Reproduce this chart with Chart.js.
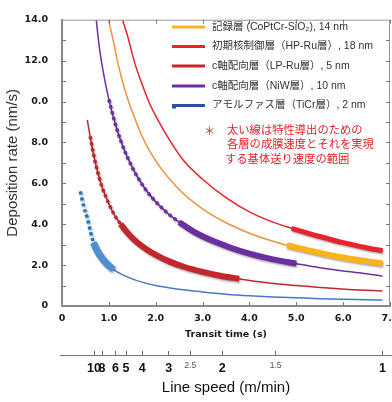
<!DOCTYPE html>
<html>
<head>
<meta charset="utf-8">
<script src="https://cdn.jsdelivr.net/npm/chart.js@4.4.1/dist/chart.umd.min.js"></script>
<style>
  html, body { margin: 0; padding: 0; background: #fff; }
</style>
</head>
<body>
<canvas id="rateChart" width="392" height="402"></canvas>
<script>
// Werte (Transit time in s, Deposition rate in nm/s)
const recT    = [0.99, 1.1, 1.2, 1.35, 1.5, 1.75, 2.0, 2.5, 3.0, 3.5, 4.0, 4.4, 4.8, 5.5, 6.0, 6.5, 6.84];
const recRate = [14.0, 12.9, 11.8, 10.5, 9.5, 8.1, 7.1, 5.7, 4.75, 4.07, 3.56, 3.24, 2.97, 2.6, 2.37, 2.19, 2.08];

const hpT     = [1.29, 1.4, 1.55, 1.7, 1.85, 2.0, 2.3, 2.6, 3.0, 3.5, 4.0, 4.5, 4.9, 5.5, 6.0, 6.5, 6.84];
const hpRate  = [14.0, 13.2, 11.9, 10.9, 10.0, 9.3, 8.1, 7.1, 6.2, 5.3, 4.6, 4.1, 3.8, 3.4, 3.1, 2.85, 2.7];

const lpT     = [0.54, 0.6, 0.67, 0.75, 0.85, 1.0, 1.12, 1.25, 1.4, 1.6, 1.8, 2.0, 2.3, 2.6, 3.0, 3.4, 3.78, 4.3, 5.0, 5.6, 6.2, 6.84];
const lpRate  = [9.1, 8.3, 7.45, 6.65, 5.85, 5.0, 4.45, 4.0, 3.57, 3.12, 2.78, 2.5, 2.17, 1.92, 1.67, 1.47, 1.33, 1.16, 1.0, 0.89, 0.8, 0.73];

const niwT    = [0.73, 0.8, 0.9, 1.0, 1.1, 1.25, 1.4, 1.6, 1.8, 2.0, 2.25, 2.5, 2.8, 3.2, 3.6, 4.0, 4.5, 5.0, 5.5, 6.0, 6.5, 6.84];
const niwRate = [14.0, 12.6, 11.2, 10.1, 9.2, 8.1, 7.25, 6.35, 5.65, 5.1, 4.55, 4.1, 3.65, 3.2, 2.85, 2.56, 2.28, 2.07, 1.87, 1.71, 1.58, 1.46];

const ticT    = [0.39, 0.46, 0.54, 0.61, 0.67, 0.75, 0.85, 0.95, 1.1, 1.3, 1.6, 2.0, 2.5, 3.0, 3.5, 4.0, 4.5, 5.0, 5.5, 6.0, 6.5, 6.84];
const ticRate = [5.6, 4.9, 4.3, 3.6, 3.1, 2.7, 2.35, 2.08, 1.78, 1.52, 1.24, 1.0, 0.82, 0.69, 0.58, 0.5, 0.44, 0.4, 0.36, 0.33, 0.31, 0.29];

// Bereiche (dicke / gepunktete Abschnitte)
const recThick  = [4.8, 6.84];
const hpThick   = [4.9, 6.84];
const lpDotted  = [0.6, 1.25];
const lpThick   = [1.25, 3.78];
const niwDotted = [1.0, 2.5];
const niwThick  = [2.5, 5.0];
const ticDotted = [0.39, 0.67];
const ticThick  = [0.67, 1.1];
const ticThin   = [0.67, 6.84];

// Achsen-Beschriftungen
const xTickLabels = ['0', '1.0', '2.0', '3.0', '4.0', '5.0', '6.0', '7.0'];
const yTickLabels = ['0', '2.0', '4.0', '6.0', '8.0', '0.0', '12.0', '14.0'];
const lineSpeeds      = [10, 8, 6, 5, 4, 3, 2.5, 2, 1.5, 1];
const lineSpeedLabels = ['10', '8', '6', '5', '4', '3', '2.5', '2', '1.5', '1'];
const lineSpeedMinor  = [false, false, false, false, false, false, true, false, true, false];
const transitAtOneMpm = 6.84; // Transit time (s) bei 1 m/min

const legendTexts = [
  '記録層 (CoPtCr-SiO₂), 14 nm',
  '初期核制御層（HP-Ru層）, 18 nm',
  'c軸配向層（LP-Ru層）, 5 nm',
  'c軸配向層（NiW層）, 10 nm',
  'アモルファス層（TiCr層）, 2 nm'
];
const noteTexts = ['太い線は特性導出のための', '各層の成膜速度とそれを実現', 'する基体送り速度の範囲'];

const latin = "'Liberation Sans', Arial, sans-serif";
const jp = "'Liberation Sans', 'Noto Sans CJK JP', sans-serif";

function pts(ts, rs, range) {
  const out = [];
  ts.forEach((t, i) => {
    if (!range || (t >= range[0] - 1e-9 && t <= range[1] + 1e-9)) out.push({ x: t, y: rs[i] });
  });
  return out;
}

function thin(data, color) {
  return { data, borderColor: color, borderWidth: 1.5, pointRadius: 0, cubicInterpolationMode: 'monotone', order: 3 };
}
function thick(data, color, w) {
  return { data, borderColor: color, borderWidth: w, pointRadius: 0, cubicInterpolationMode: 'monotone', order: 1, shadow: true };
}
function dotted(data, color) {
  return { data, borderColor: color, borderWidth: 3.5, borderDash: [3, 3], pointRadius: 0, cubicInterpolationMode: 'monotone', order: 2, shadow: true };
}

const datasets = [
  thin(pts(hpT, hpRate), '#e8232b'),
  thick(pts(hpT, hpRate, hpThick), '#e8232b', 5),
  thin(pts(recT, recRate), '#f39237'),
  thick(pts(recT, recRate, recThick), '#f8b418', 6),
  thin(pts(niwT, niwRate), '#6c2fa0'),
  dotted(pts(niwT, niwRate, niwDotted), '#6c2fa0'),
  thick(pts(niwT, niwRate, niwThick), '#6c2fa0', 6),
  thin(pts(lpT, lpRate), '#c1272d'),
  dotted(pts(lpT, lpRate, lpDotted), '#c1272d'),
  thick(pts(lpT, lpRate, lpThick), '#c1272d', 6),
  thin(pts(ticT, ticRate, ticThin), '#4a78c8'),
  dotted(pts(ticT, ticRate, ticDotted), '#1f76c4'),
  thick(pts(ticT, ticRate, ticThick), '#4d8fd1', 7)
];

// Schatten fuer dicke Linien
const shadowPlugin = {
  id: 'shadowPlugin',
  beforeDatasetDraw(chart, args) {
    if (!args.meta._dataset.shadow) return;
    const ctx = chart.ctx;
    ctx.save();
    ctx.shadowColor = 'rgba(0,0,0,0.35)';
    ctx.shadowBlur = 2;
    ctx.shadowOffsetX = 1;
    ctx.shadowOffsetY = 1.5;
  },
  afterDatasetDraw(chart, args) {
    if (!args.meta._dataset.shadow) return;
    chart.ctx.restore();
  }
};

// Rahmen, Ticks nach innen, Line-speed-Linie, Legende und Hinweis
const frameExtras = {
  id: 'frameExtras',
  afterDraw(chart) {
    const { ctx, chartArea: a, scales } = chart;
    const x = scales.x, y = scales.y, x2 = scales.x2;
    ctx.save();
    ctx.strokeStyle = '#9a9a9a';
    ctx.lineWidth = 1;
    ctx.beginPath();
    ctx.moveTo(a.left, a.top + 0.5); ctx.lineTo(a.right, a.top + 0.5);
    ctx.moveTo(a.right - 0.5, a.top); ctx.lineTo(a.right - 0.5, a.bottom);
    ctx.stroke();

    ctx.strokeStyle = '#777';
    ctx.beginPath();
    for (let v = 1; v < 14; v++) {
      const py = Math.round(y.getPixelForValue(v)) + 0.5;
      ctx.moveTo(a.left, py); ctx.lineTo(a.left + 4, py);
      ctx.moveTo(a.right, py); ctx.lineTo(a.right - 4, py);
    }
    for (let v = 1; v <= 7; v++) {
      const px = Math.round(x.getPixelForValue(v)) + 0.5;
      ctx.moveTo(px, a.bottom); ctx.lineTo(px, a.bottom - 4);
      ctx.moveTo(px, a.top); ctx.lineTo(px, a.top + 4);
    }
    ctx.stroke();

    // Linie der Line-speed-Achse (Ticks zeigen nach oben)
    const ly = Math.round(x2.top + 4) + 0.5;
    ctx.strokeStyle = '#777';
    ctx.beginPath();
    ctx.moveTo(a.left - 2, ly); ctx.lineTo(chart.width, ly);
    ctx.stroke();

    // Legende
    const legendColors = ['#f7b51b', '#e8232b', '#c1272d', '#6c2fa0', '#2e50a3'];
    const rowY = [27, 46.5, 66, 86, 105.5];
    ctx.font = '10.5px ' + jp;
    ctx.textBaseline = 'middle';
    ctx.textAlign = 'left';
    legendTexts.forEach((t, i) => {
      ctx.strokeStyle = legendColors[i];
      ctx.lineWidth = 3;
      ctx.beginPath();
      ctx.moveTo(172, rowY[i]); ctx.lineTo(205, rowY[i]);
      ctx.stroke();
      if (i === 4) { ctx.fillStyle = legendColors[i]; ctx.fillRect(172, rowY[i], 4, 3); }
      ctx.fillStyle = '#333';
      ctx.fillText(t, 212, rowY[i]);
    });

    // Hinweis in rot
    ctx.fillStyle = '#e8202a';
    ctx.font = '11.3px ' + jp;
    ctx.fillText('＊', 204, 132);
    ctx.fillText(noteTexts[0], 227, 131);
    ctx.fillText(noteTexts[1], 227, 145);
    ctx.fillText(noteTexts[2], 225, 159.5);
    ctx.restore();
  }
};

const boldTick = { family: "'DejaVu Sans', sans-serif", weight: 'bold', size: 9.5 };

new Chart(document.getElementById('rateChart'), {
  type: 'line',
  data: { datasets },
  options: {
    responsive: false,
    devicePixelRatio: 1,
    animation: false,
    layout: { padding: { top: 11, right: 2, left: 0, bottom: 0 } },
    plugins: { legend: { display: false }, tooltip: { enabled: false } },
    scales: {
      x: {
        type: 'linear', min: 0, max: 7, position: 'bottom',
        afterFit(s) { s.height = 45; s.paddingLeft = 0; s.paddingRight = 0; },
        ticks: { stepSize: 1, padding: 7, color: '#1a1a1a', font: boldTick, maxRotation: 0,
                 callback: (v, i) => xTickLabels[i] },
        grid: { drawOnChartArea: false, drawTicks: false },
        border: { color: '#888', width: 2 },
        title: { display: true, text: 'Transit time (s)', color: '#1a1a1a', font: boldTick,
                 padding: { top: 0, bottom: 11 } }
      },
      x2: {
        type: 'linear', min: 0, max: 7, position: 'bottom',
        afterBuildTicks(s) { s.ticks = lineSpeeds.map(v => ({ value: transitAtOneMpm / v })); },
        afterFit(s) { s.height = 51; s.paddingLeft = 0; s.paddingRight = 0; },
        ticks: {
          autoSkip: false, maxRotation: 0, minRotation: 0, padding: 6,
          color: c => lineSpeedMinor[c.index] ? '#555' : '#111',
          font: c => lineSpeedMinor[c.index]
            ? { family: latin, size: 8.5 }
            : { family: latin, size: 12.5, weight: 'bold' },
          callback: (v, i) => lineSpeedLabels[i]
        },
        grid: { drawOnChartArea: false, drawTicks: true, tickLength: 4, color: '#666' },
        border: { display: false },
        title: { display: true, text: 'Line speed (m/min)', color: '#111',
                 font: { family: latin, size: 15 }, padding: { top: 0, bottom: 5 } }
      },
      y: {
        type: 'linear', min: 0, max: 14,
        afterFit(s) { s.width = 62; },
        ticks: { stepSize: 2, padding: 14, color: '#1a1a1a', font: boldTick,
                 callback: (v) => yTickLabels[Math.round(v / 2)] },
        grid: { drawOnChartArea: false, drawTicks: false },
        border: { color: '#888', width: 2 },
        title: { display: true, text: 'Deposition rate (nm/s)', color: '#333',
                 font: { family: latin, size: 15 }, padding: { top: 4, bottom: 0 } }
      }
    }
  },
  plugins: [shadowPlugin, frameExtras]
});
</script>
</body>
</html>
